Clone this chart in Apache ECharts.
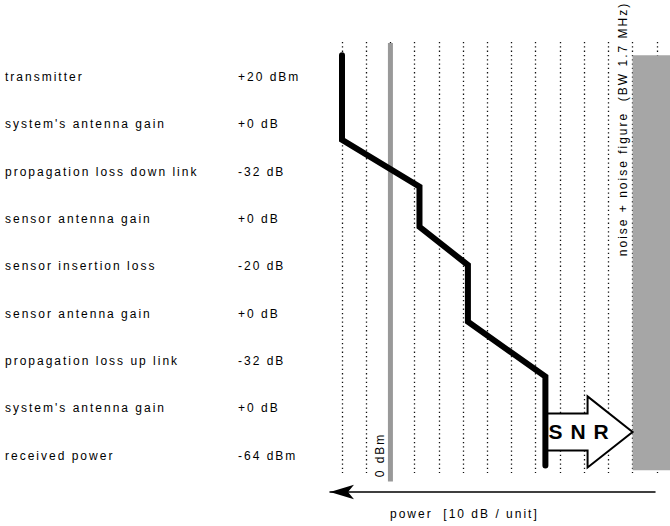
<!DOCTYPE html>
<html>
<head>
<meta charset="utf-8">
<script src="https://cdn.jsdelivr.net/npm/echarts@6/dist/echarts.min.js"></script>
<style>
html, body { margin: 0; padding: 0; background: #fff; }
#chart { width: 670px; height: 526px; }
#chart text { letter-spacing: 2px; }
#chart text[style*="bold"] { letter-spacing: 8px; }
</style>
</head>
<body>
<div id="chart"></div>
<script>
// ---- data ----
const stageNames = [
  'transmitter',
  "system's antenna gain",
  'propagation loss down link',
  'sensor antenna gain',
  'sensor insertion loss',
  'sensor antenna gain',
  'propagation loss up link',
  "system's antenna gain",
  'received power'
];
const stageValues = ['+20 dBm', '+0 dB', '-32 dB', '+0 dB', '-20 dB', '+0 dB', '-32 dB', '+0 dB', '-64 dBm'];

// power level path (dBm) and its vertical position in stage-row units
const pathPower = [20, 20, -12, -12, -32, -32, -64, -64];
const pathRow = [-0.43, 1.36, 2.35, 3.20, 4.01, 5.21, 6.37, 8.25];

const zeroRefPower = 0;              // 0 dBm reference
const zeroRefRows = [-0.69, 8.59];
const noiseFloor = -100;             // noise + noise figure (BW 1.7 MHz)
const noiseRows = [-0.43, 8.35];
const receivedPower = -64;
const snrRow = 7.54;

const powerMin = -120, powerMax = 20, powerStep = 10;
const rowMin = -0.709, rowMax = 8.409;

const FONT = "'Liberation Sans', Arial, sans-serif";

const chart = echarts.init(document.getElementById('chart'), null, { renderer: 'svg' });

const option = {
  animation: false,
  backgroundColor: '#fff',
  title: {
    text: 'power  [10 dB / unit]',
    left: 390, top: 508, padding: 0,
    textStyle: { fontSize: 12, fontWeight: 'normal', color: '#000', fontFamily: FONT }
  },
  grid: [
    { left: 342, right: -11, top: 42, bottom: 53, outerBoundsMode: 'none', containLabel: false },
    { left: 5, right: 432, top: 77, bottom: 70.5, outerBoundsMode: 'none', containLabel: false },
    { left: 330, right: 15, top: 480, bottom: 34, outerBoundsMode: 'none', containLabel: false }
  ],
  xAxis: [
    {
      gridIndex: 0, type: 'value', inverse: true,
      min: powerMin, max: powerMax, interval: powerStep,
      axisLine: { show: false }, axisTick: { show: false }, axisLabel: { show: false },
      splitLine: { show: true, lineStyle: { color: '#111', width: 1.3, type: [1.3, 3] } }
    },
    { gridIndex: 1, type: 'value', min: 0, max: 1, show: false },
    {
      gridIndex: 2, type: 'value', min: 0, max: 1,
      axisLine: { show: true, symbol: ['arrow', 'none'], symbolSize: [11, 24],
        lineStyle: { color: '#000', width: 1.5 } },
      axisTick: { show: false }, axisLabel: { show: false }, splitLine: { show: false }
    }
  ],
  yAxis: [
    { gridIndex: 0, type: 'value', inverse: true, min: rowMin, max: rowMax, show: false },
    {
      gridIndex: 1, type: 'value', inverse: true, min: 0, max: stageNames.length - 1, interval: 1,
      position: 'left',
      axisLine: { show: false }, axisTick: { show: false }, splitLine: { show: false },
      axisLabel: {
        align: 'left', margin: 0, fontSize: 12, color: '#000', fontFamily: FONT,
        formatter: v => stageNames[v] || ''
      }
    },
    {
      gridIndex: 1, type: 'value', inverse: true, min: 0, max: stageValues.length - 1, interval: 1,
      position: 'right',
      axisLine: { show: false }, axisTick: { show: false }, splitLine: { show: false },
      axisLabel: {
        align: 'left', margin: 0, fontSize: 12, color: '#000', fontFamily: FONT,
        formatter: v => stageValues[v] || ''
      }
    },
    { gridIndex: 2, type: 'value', show: false }
  ],
  series: [
    {
      name: '0 dBm',
      type: 'line', xAxisIndex: 0, yAxisIndex: 0, z: 1, clip: false,
      symbol: 'none', silent: true,
      data: zeroRefRows.map(r => [zeroRefPower, r]),
      lineStyle: { color: '#999', width: 5 },
      markArea: {
        silent: true,
        label: { show: false },
        itemStyle: { color: '#a6a6a6' },
        data: [[{ coord: [noiseFloor, noiseRows[0]] }, { coord: [powerMin, noiseRows[1]] }]]
      }
    },
    {
      name: 'SNR',
      type: 'custom', xAxisIndex: 0, yAxisIndex: 0, z: 2, clip: false,
      encode: { x: [0, 1], y: 2 },
      data: [[receivedPower, noiseFloor, snrRow]],
      renderItem: function (params, api) {
        const a = api.coord([api.value(0), api.value(2)]);
        const b = api.coord([api.value(1), api.value(2)]);
        const x0 = a[0], x1 = b[0], y = a[1];
        const head = 45, bh = 18.5, hh = 35.5;
        return {
          type: 'group',
          children: [
            {
              type: 'polygon',
              shape: { points: [[x0, y - bh], [x1 - head, y - bh], [x1 - head, y - hh], [x1, y],
                [x1 - head, y + hh], [x1 - head, y + bh], [x0, y + bh]] },
              style: { fill: '#fff', stroke: '#000', lineWidth: 2 }
            },
            {
              type: 'text', x: x0 + 3, y: y,
              style: { text: 'SNR', fontFamily: FONT, fontWeight: 'bold', fontSize: 21,
                fill: '#000', align: 'left', verticalAlign: 'middle' }
            }
          ]
        };
      }
    },
    {
      name: 'power level',
      type: 'line', xAxisIndex: 0, yAxisIndex: 0, z: 3, clip: false,
      symbol: 'none', silent: true,
      data: pathPower.map((p, i) => [p, pathRow[i]]),
      lineStyle: { color: '#000', width: 6, cap: 'round', join: 'miter' }
    }
  ],
  graphic: [
    {
      type: 'text', x: 380, y: 455, rotation: Math.PI / 2,
      style: { text: '0 dBm', fontFamily: FONT, fontSize: 12, fill: '#000',
        align: 'center', verticalAlign: 'middle' }
    },
    {
      type: 'text', x: 623, y: 129, rotation: Math.PI / 2,
      style: { text: 'noise + noise figure  (BW 1.7 MHz)', fontFamily: FONT, fontSize: 12, fill: '#000',
        align: 'center', verticalAlign: 'middle' }
    }
  ]
};
chart.setOption(option);
</script>
</body>
</html>
